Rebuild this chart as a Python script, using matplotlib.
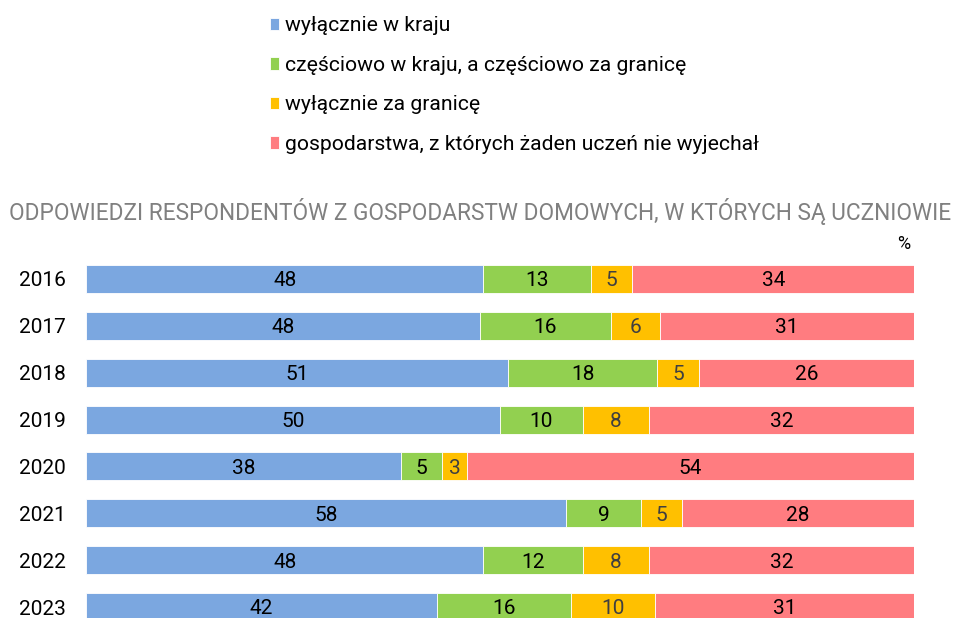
import matplotlib
matplotlib.use('Agg')
import matplotlib.pyplot as plt
import numpy as np

years = ["2016", "2017", "2018", "2019", "2020", "2021", "2022", "2023"]
only_home = [48, 48, 51, 50, 38, 58, 48, 42]
partly = [13, 16, 18, 10, 5, 9, 12, 16]
only_abroad = [5, 6, 5, 8, 3, 5, 8, 10]
nobody = [34, 31, 26, 32, 54, 28, 32, 31]

series_names = [
    "wyłącznie w kraju",
    "częściowo w kraju, a częściowo za granicę",
    "wyłącznie za granicę",
    "gospodarstwa, z których żaden uczeń nie wyjechał",
]
colors = ["#7BA7E0", "#92D050", "#FFC000", "#FF7C80"]
label_colors = ["#000000", "#000000", "#404040", "#000000"]

plt.rcParams['font.family'] = ['Roboto', 'DejaVu Sans']

fig = plt.figure(figsize=(9.54, 6.18), dpi=100)
W, H = 954, 618
ax = fig.add_axes([86 / W, 0, (914 - 86) / W, (618 - 250) / H])

data = np.array([only_home, partly, only_abroad, nobody], dtype=float)
# bars fill the whole width, so scale each row to 100
shares = data / data.sum(axis=0) * 100
y = np.arange(len(years))
left = np.zeros(len(years))
handles = []
for k in range(4):
    b = ax.barh(y, shares[k], left=left, height=0.6, color=colors[k],
                edgecolor='white', linewidth=0.6, label=series_names[k])
    handles.append(b)
    for i in range(len(years)):
        ax.text(left[i] + shares[k][i] / 2, y[i] + 0.04, str(int(data[k][i])),
                ha='center', va='center', fontsize=15, color=label_colors[k])
    left += shares[k]

ax.set_xlim(0, 100)
ax.set_ylim(7.235, -0.619)
ax.axis('off')

for i, yr in enumerate(years):
    fig.text(19 / W, 1 - (281 + i * 46.86) / H, yr, ha='left', va='center',
             fontsize=15)

fig.text(480 / W, 1 - 212 / H,
         "ODPOWIEDZI RESPONDENTÓW Z GOSPODARSTW DOMOWYCH, W KTÓRYCH SĄ UCZNIOWIE",
         ha='center', va='center', fontsize=16.3, color='#808080')
fig.text(904 / W, 1 - 244 / H, "%", ha='center', va='center', fontsize=13)

fig.legend(handles=handles, labels=series_names, loc='upper left',
           bbox_to_anchor=(262 / W, 1 - 8 / H), frameon=False, ncol=1,
           fontsize=15.2, handlelength=0.4, handleheight=0.55, handletextpad=0.3,
           labelspacing=0.97, borderaxespad=0)

fig.savefig("out.png", dpi=100)
